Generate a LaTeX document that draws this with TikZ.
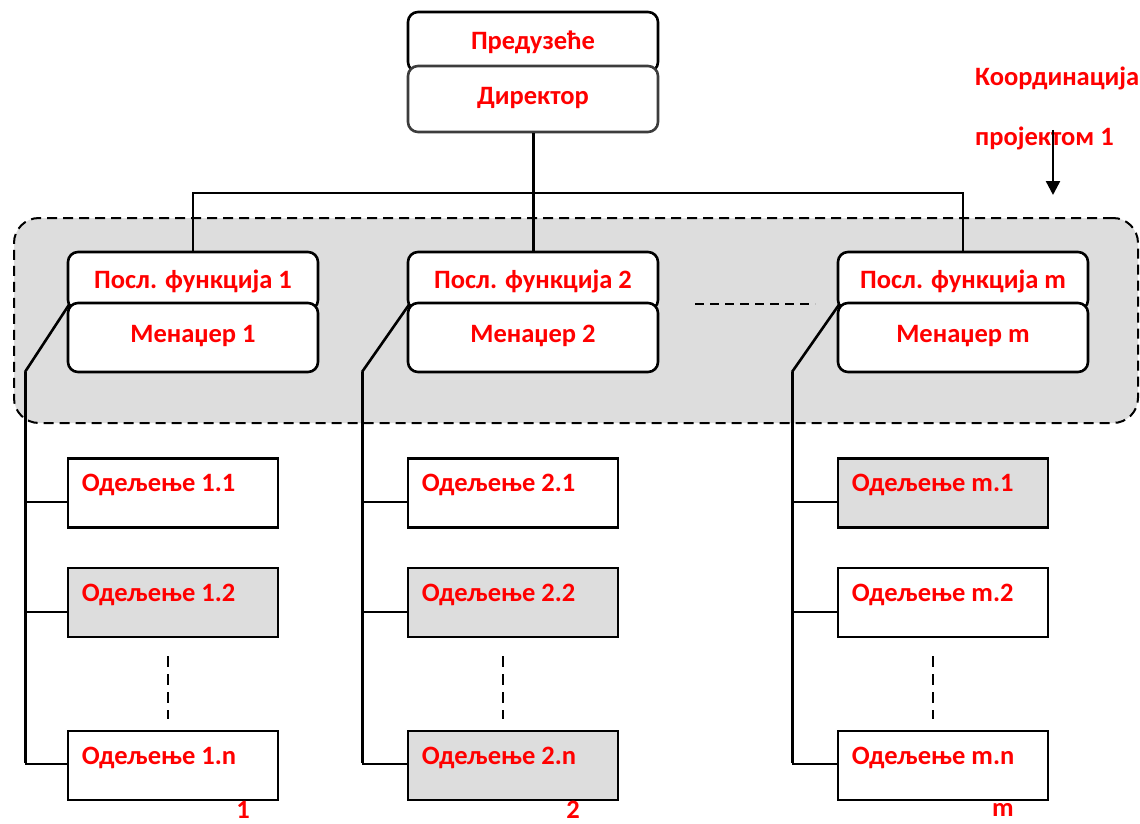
\documentclass[tikz,border=0pt]{standalone}
\usepackage{fontspec}
\setmainfont{Carlito}
\usetikzlibrary{arrows.meta}
\definecolor{regiongray}{HTML}{DDDDDD}
\definecolor{fillgray}{HTML}{DDDDDD}
\definecolor{edgegray}{HTML}{3C3C3C}
\begin{document}
\begin{tikzpicture}[x=1pt,y=-1pt,
  lbl/.style={text=red, font=\bfseries\fontsize{26.5}{30}\selectfont},
  conn/.style={line width=2pt},
  thick conn/.style={line width=3pt},
  rbox/.style={draw, line width=2.6pt, rounded corners=10pt, fill=white, minimum width=250pt, inner sep=0pt, lbl},
  deptbox/.style={draw, line width=2.8pt, fill=white, minimum width=210pt, minimum height=69pt, inner sep=0pt},
  grayd/.style={fill=fillgray},
  dtext/.style={lbl, anchor=west, inner sep=0pt},
  vdash/.style={line width=1.8pt, dash pattern=on 11pt off 7pt},
  hdash/.style={line width=1.8pt, dash pattern=on 9pt off 6pt},
  region/.style={draw, line width=2pt, dash pattern=on 10pt off 6pt, fill=regiongray, rounded corners=25pt, minimum width=1124pt, minimum height=205pt, inner sep=0pt}
]
\useasboundingbox (0,0) rectangle (1140,824);

% shaded coordination region
\node[region] (reg) at (576,320.5) {};

% top boxes
\node[rbox, minimum height=60pt] (firm) at (533,42) {Предузеће};
\node[rbox, draw=edgegray, minimum height=66pt, text depth=6pt] (dir) at (533,99) {Директор};

% business function boxes (upper parts)
\node[rbox, minimum height=58pt] (f1) at (193,281) {Посл. функција 1};
\node[rbox, minimum height=58pt] (f2) at (533,281) {Посл. функција 2};
\node[rbox, minimum height=58pt] (fm) at (963,281) {Посл. функција m};

% bus from director
\coordinate (busy) at (0,193);
\draw[thick conn] (dir.south) -- (f2.north);
\draw[conn] (f1.north) -- (f1.north |- busy) -- (fm.north |- busy) -- (fm.north);

% department boxes
\node[deptbox] (d11) at (173,493) {};
\node[deptbox, grayd] (d12) at (173,602.5) {};
\node[deptbox] (d1n) at (173,765.5) {};
\node[deptbox] (d21) at (513,493) {};
\node[deptbox, grayd] (d22) at (513,602.5) {};
\node[deptbox, grayd] (d2n) at (513,765.5) {};
\node[deptbox, grayd] (dm1) at (943,493) {};
\node[deptbox] (dm2) at (943,602.5) {};
\node[deptbox] (dmn) at (943,765.5) {};

% rails
\coordinate (k1) at (25,372);
\coordinate (k2) at (362,372);
\coordinate (km) at (792,372);
\foreach \c/\k in {1/k1,2/k2,m/km}{
  \coordinate (c\c1) at ([yshift=-9pt]d\c1.west);
  \coordinate (c\c2) at ([yshift=-9pt]d\c2.west);
  \coordinate (c\c n) at ([yshift=2pt]d\c n.west);
  \draw[thick conn] ([yshift=1pt]\k |- c\c n) -- (\k);
  \draw[conn] (c\c n) -- (\k |- c\c n);
  \draw[conn] (c\c1) -- (\k |- c\c1);
  \draw[conn] (c\c2) -- (\k |- c\c2);
}

% manager boxes (lower parts)
\node[rbox, minimum height=69pt, text depth=8pt] (m1) at (193,337.5) {Менаџер 1};
\node[rbox, minimum height=69pt, text depth=8pt] (m2) at (533,337.5) {Менаџер 2};
\node[rbox, minimum height=69pt, text depth=8pt] (mm) at (963,337.5) {Менаџер m};

% diagonals from managers to rails
\draw[line width=2.6pt] ([shift={(3,2)}]m1.north west) -- (k1);
\draw[line width=2.6pt] ([shift={(3,2)}]m2.north west) -- (k2);
\draw[line width=2.6pt] ([shift={(3,2)}]mm.north west) -- (km);

% dashed gap between function 2 and m
\coordinate (g1) at (695,304);
\coordinate (g2) at (815,304);
\draw[hdash] (g1) -- (g2);

% department labels
\node[dtext] at ([shift={(15,-8)}]d11.west) {Одељење 1.1};
\node[dtext] at ([shift={(15,-8)}]d12.west) {Одељење 1.2};
\node[dtext] at ([shift={(15,-8)}]d1n.west) {Одељење 1.n};
\node[dtext] at ([shift={(15,-8)}]d21.west) {Одељење 2.1};
\node[dtext] at ([shift={(15,-8)}]d22.west) {Одељење 2.2};
\node[dtext] at ([shift={(15,-8)}]d2n.west) {Одељење 2.n};
\node[dtext] at ([shift={(15,-8)}]dm1.west) {Одељење m.1};
\node[dtext] at ([shift={(15,-8)}]dm2.west) {Одељење m.2};
\node[dtext] at ([shift={(15,-8)}]dmn.west) {Одељење m.n};

% vertical dots
\draw[vdash] ([shift={(-5,18)}]d12.south) -- ([shift={(-5,-11)}]d1n.north);
\draw[vdash] ([shift={(-10,18)}]d22.south) -- ([shift={(-10,-11)}]d2n.north);
\draw[vdash] ([shift={(-10,18)}]dm2.south) -- ([shift={(-10,-11)}]dmn.north);

% column numbers
\node[lbl, inner sep=0pt] (n1) at (243,810) {1};
\node[lbl, inner sep=0pt] (n2) at (573,810) {2};
\node[lbl, inner sep=0pt] (nm) at (1003,810) {m};

% coordination note
\node[lbl, anchor=west, inner sep=0pt] (coord1) at (975,78) {Координација};
\node[lbl, anchor=west, inner sep=0pt] (coord2) at (975,138) {пројектом 1};
\coordinate (a1) at (1053,130);
\coordinate (a2) at (1053,195);
\draw[line width=2.4pt, -{Triangle[length=14pt,width=14pt]}] (a1) -- (a2);
\end{tikzpicture}
\end{document}
